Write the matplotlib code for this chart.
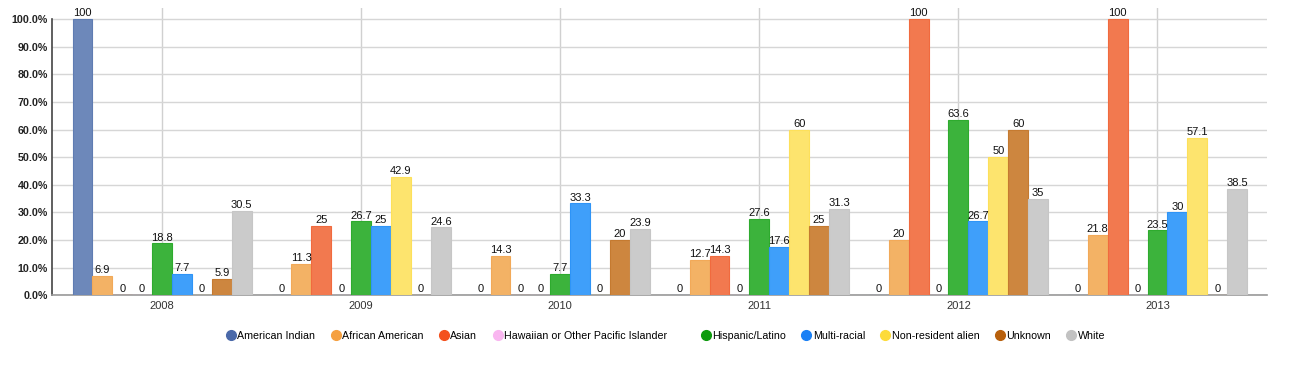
import matplotlib
matplotlib.use("Agg")
import matplotlib.pyplot as plt
from matplotlib.lines import Line2D
import numpy as np

plt.rcParams["font.family"] = ["Liberation Sans", "DejaVu Sans"]

years = ["2008", "2009", "2010", "2011", "2012", "2013"]
groups = [
    "American Indian",
    "African American",
    "Asian",
    "Hawaiian or Other Pacific Islander",
    "Hispanic/Latino",
    "Multi-racial",
    "Non-resident alien",
    "Unknown",
    "White",
]
american_indian = [100, 0, 0, 0, 0, 0]
african_american = [6.9, 11.3, 14.3, 12.7, 20, 21.8]
asian = [0, 25, 0, 14.3, 100, 100]
hawaiian = [0, 0, 0, 0, 0, 0]
hispanic = [18.8, 26.7, 7.7, 27.6, 63.6, 23.5]
multi_racial = [7.7, 25, 33.3, 17.6, 26.7, 30]
non_resident = [0, 42.9, 0, 60, 50, 57.1]
unknown = [5.9, 0, 20, 25, 60, 0]
white = [30.5, 24.6, 23.9, 31.3, 35, 38.5]
series = [american_indian, african_american, asian, hawaiian, hispanic,
          multi_racial, non_resident, unknown, white]

bar_colors = ["#6d88ba", "#f3b265", "#f2794f", "#f6b8ee", "#3cb33c",
              "#3f9ffa", "#fde46e", "#cd863f", "#cbcbcb"]
edge_colors = ["#5f7cb2", "#f2a958", "#f16a3e", "#f5a8ec", "#2eab2e",
               "#2e94f7", "#fde05a", "#c57a30", "#c6c6c6"]
legend_colors = ["#4a69a9", "#f5a040", "#f4511e", "#f9b6f0", "#0d9a0d",
                 "#1a80f5", "#fddb3a", "#b8600c", "#c2c2c2"]

fig = plt.figure(figsize=(13, 3.68), dpi=100)
ax = fig.add_axes([0.04, 0.198, 0.9346, 0.78])

x = np.arange(len(years))
width = 0.1
for i, (vals, name) in enumerate(zip(series, groups)):
    pos = x + (i - 4) * width
    ax.bar(pos, vals, width, color=bar_colors[i], edgecolor=edge_colors[i],
           linewidth=0.8, zorder=3, label=name)
    for px, v in zip(pos, vals):
        ax.annotate(f"{v:g}", (px, v), xytext=(0, 0.5), textcoords="offset points",
                    ha="center", va="bottom", fontsize=8, color="#111111", zorder=5)

ax.set_xlim(-0.553, 5.55)
ax.set_ylim(0, 104)
ax.set_yticks(np.arange(0, 101, 10))
ax.set_yticklabels([f"{t:.1f}%" for t in range(0, 101, 10)],
                   fontsize=7.7, fontweight="bold", color="#222222")
ax.set_xticks(x)
ax.set_xticklabels(years, fontsize=8, color="#333333")
ax.tick_params(axis="both", length=0, pad=3)
ax.tick_params(axis="x", pad=4)

ax.grid(axis="y", color="#d6d6d6", linewidth=1, zorder=0)
ax.grid(axis="x", color="#d0d0d0", linewidth=1, zorder=0)
for s in ["top", "right"]:
    ax.spines[s].set_visible(False)
ax.spines["left"].set_color("#444444")
ax.spines["left"].set_linewidth(1.2)
ax.spines["left"].set_bounds(0, 100)
ax.spines["bottom"].set_color("#999999")
ax.spines["bottom"].set_linewidth(1.2)

handles = [Line2D([], [], marker="o", linestyle="none", markersize=7,
                  markerfacecolor=c, markeredgecolor=c) for c in legend_colors]
leg1 = fig.legend(handles[:4], groups[:4], loc="center", ncol=4,
                  bbox_to_anchor=(0.343, 0.087), frameon=False, fontsize=7.7,
                  handletextpad=0.0, columnspacing=1.3, handlelength=1.2)
leg2 = fig.legend(handles[4:], groups[4:], loc="center", ncol=5,
                  bbox_to_anchor=(0.694, 0.087), frameon=False, fontsize=7.7,
                  handletextpad=0.0, columnspacing=1.3, handlelength=1.2)

fig.savefig("out.png", dpi=100)
